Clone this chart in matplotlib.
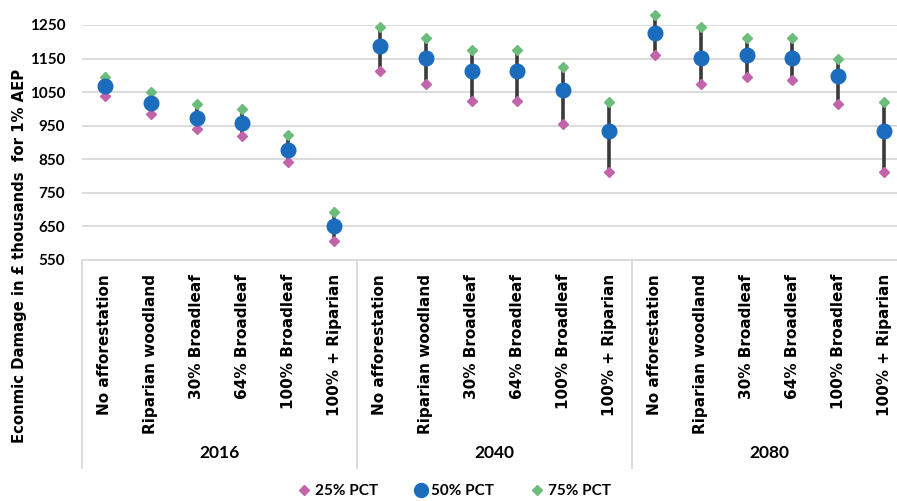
import matplotlib
matplotlib.use("Agg")
import matplotlib.pyplot as plt
from matplotlib.lines import Line2D

# scenarios and years
scenarios = ["No afforestation", "Riparian woodland", "30% Broadleaf",
             "64% Broadleaf", "100% Broadleaf", "100% + Riparian"]
years = ["2016", "2040", "2080"]

# damage in thousands of pounds, per year block
pct25 = [1039, 985, 940, 920, 841, 606,
         1114, 1075, 1025, 1025, 954, 811,
         1160, 1075, 1095, 1085, 1015, 811]
pct50 = [1069, 1018, 973, 958, 878, 650,
         1187, 1152, 1112, 1112, 1056, 934,
         1226, 1152, 1162, 1152, 1098, 934]
pct75 = [1096, 1050, 1016, 1000, 921, 692,
         1244, 1210, 1176, 1176, 1126, 1020,
         1279, 1244, 1210, 1210, 1150, 1020]

yticks = [550, 650, 750, 850, 950, 1050, 1150, 1250]

PINK = "#c264a9"
BLUE = "#1c6cbe"
GREEN = "#6cbd7c"
GRID = "#d9d9d9"
BOLD_NARROW = ["Lato", "DejaVu Sans"]

fig = plt.figure(figsize=(8.97, 5.01), dpi=100)
ax = fig.add_axes([82 / 897, 1 - 260 / 501, 825 / 897, 235 / 501])

labels = scenarios * len(years)
x = list(range(len(labels)))

ax.vlines(x, pct25, pct75, color="#3a3a3a", lw=2.6, zorder=3, clip_on=False)
ax.plot(x, pct25, ls="none", marker="D", ms=5, color=PINK, zorder=4, clip_on=False)
ax.plot(x, pct75, ls="none", marker="D", ms=5, color=GREEN, zorder=4, clip_on=False)
ax.plot(x, pct50, ls="none", marker="o", ms=10.5, color=BLUE, zorder=5, clip_on=False)

ax.set_xlim(-0.5, len(labels) - 0.5)
ax.set_ylim(550, 1250)
ax.set_yticks(yticks)
ax.set_yticklabels([str(t) for t in yticks], family=BOLD_NARROW,
                   fontweight="bold", fontsize=11)
ax.yaxis.grid(True, color=GRID, lw=1.3)
ax.set_axisbelow(True)
ax.tick_params(axis="y", length=0, pad=12)

ax.set_xticks(x)
ax.set_xticklabels(labels, rotation=90, fontweight="bold", fontsize=11,
                   family="DejaVu Sans", va="top")
ax.tick_params(axis="x", length=0, pad=10)

for s in ["top", "right", "left"]:
    ax.spines[s].set_visible(False)
ax.spines["bottom"].set_color(GRID)
ax.spines["bottom"].set_linewidth(1.3)

# category box below the axis
tr = ax.get_xaxis_transform()
n = len(scenarios)
for k in range(len(years) + 1):
    xs = k * n - 0.5
    ax.plot([xs, xs], [0, -0.885], transform=tr, color=GRID, lw=1.3,
            clip_on=False)
for k, yr in enumerate(years):
    ax.text(k * n + (n - 1) / 2, -0.82, yr, transform=tr, ha="center",
            va="center", fontsize=12.5, fontweight="bold", family=BOLD_NARROW)

fig.text(20 / 897, 0.49, "Econmic Damage in £ thousands  for 1% AEP",
         rotation=90, ha="center", va="center", fontsize=10.7,
         fontweight="bold")

handles = [
    Line2D([], [], ls="none", marker="D", ms=5, color=PINK, label="25% PCT"),
    Line2D([], [], ls="none", marker="o", ms=10, color=BLUE, label="50% PCT"),
    Line2D([], [], ls="none", marker="D", ms=5, color=GREEN, label="75% PCT"),
]
fig.legend(handles=handles, loc="center", bbox_to_anchor=(0.505, 1 - 491 / 501),
           ncol=3, frameon=False, handletextpad=0.1, columnspacing=2.2,
           handlelength=1.2,
           prop={"family": BOLD_NARROW, "weight": "bold", "size": 11})

fig.savefig("out.png", dpi=100)
